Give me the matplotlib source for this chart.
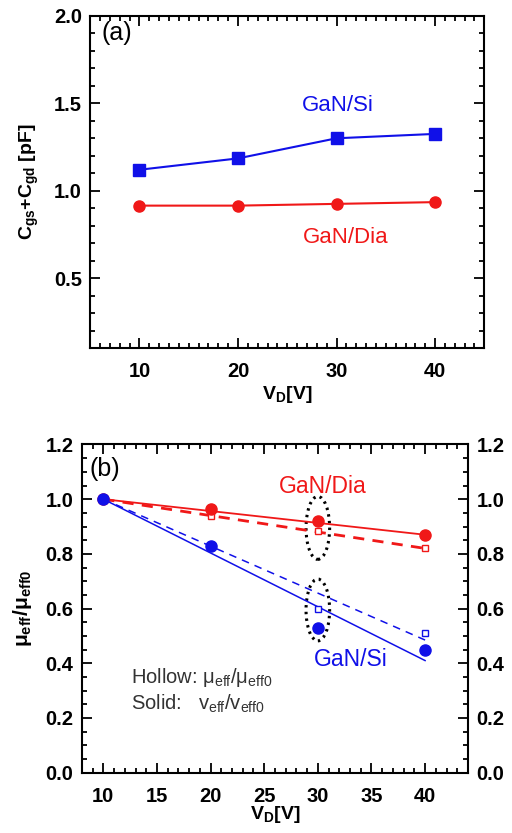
import matplotlib.pyplot as plt
from matplotlib.patches import Ellipse
from matplotlib.ticker import MultipleLocator

plt.rcParams['font.family'] = ['Liberation Sans', 'DejaVu Sans']
plt.rcParams['mathtext.fontset'] = 'custom'
plt.rcParams['mathtext.rm'] = 'Liberation Sans'
plt.rcParams['mathtext.it'] = 'Liberation Sans'
plt.rcParams['mathtext.bf'] = 'Liberation Sans:bold'

# panel (a) data
vd_a = [10, 20, 30, 40]
cap_si = [1.12, 1.185, 1.30, 1.325]
cap_dia = [0.915, 0.915, 0.925, 0.935]

# panel (b) data
vd_b = [10, 20, 30, 40]
dia_solid = [1.0, 0.965, 0.92, 0.87]
dia_hollow = [1.0, 0.94, 0.885, 0.82]
si_solid = [1.0, 0.83, 0.53, 0.45]
si_hollow = [1.0, 0.83, 0.60, 0.51]

# fitted lines (end points)
fit_x = [10, 40]
dia_solid_fit = [1.0, 0.87]
dia_hollow_fit = [1.0, 0.82]
si_solid_fit = [1.0, 0.41]
si_hollow_fit = [1.0, 0.485]

blue = '#1010e8'
red = '#f01818'

fig = plt.figure(figsize=(5.12, 8.33), dpi=100)

def style_ticks(ax):
    ax.tick_params(which='both', direction='in', top=True, right=True,
                   labelsize=14.5, width=1.3)
    ax.tick_params(which='major', length=7)
    ax.tick_params(which='minor', length=3.5)
    ax.tick_params(axis='x', pad=10)
    ax.tick_params(axis='y', pad=6)
    for lab in ax.get_xticklabels() + ax.get_yticklabels():
        lab.set_fontweight('bold')
    for s in ax.spines.values():
        s.set_linewidth(1.5)

# ---- panel (a)
ax1 = fig.add_axes([0.176, 0.582, 0.770, 0.399])
ax1.plot(vd_a, cap_si, color=blue, marker='s', markersize=8, lw=1.5)
ax1.plot(vd_a, cap_dia, color=red, marker='o', markersize=8, lw=1.5)
ax1.set_xlim(5, 45)
ax1.set_ylim(0.1, 2.0)
ax1.xaxis.set_minor_locator(MultipleLocator(1))
ax1.yaxis.set_minor_locator(MultipleLocator(0.1))
ax1.set_xticks([10, 20, 30, 40])
ax1.set_yticks([0.5, 1.0, 1.5, 2.0])
style_ticks(ax1)
ax1.set_xlabel(r'V$_\mathbf{D}$[V]', fontsize=14, fontweight='bold', labelpad=2)
ax1.set_ylabel(r'C$_\mathbf{gs}$+C$_\mathbf{gd}$ [pF]', fontsize=14,
               fontweight='bold', labelpad=9)
ax1.text(6.2, 1.9, '(a)', fontsize=18, va='center')
ax1.text(30.1, 1.49, 'GaN/Si', color=blue, fontsize=16, ha='center', va='center')
ax1.text(30.9, 0.73, 'GaN/Dia', color=red, fontsize=16, ha='center', va='center')

# ---- panel (b)
ax2 = fig.add_axes([0.160, 0.0724, 0.754, 0.394])
ax2.plot(fit_x, dia_solid_fit, color=red, lw=1.3)
ax2.plot(fit_x, dia_hollow_fit, color=red, lw=2, ls=(0, (4, 3)))
ax2.plot(fit_x, si_solid_fit, color=blue, lw=1.1)
ax2.plot(fit_x, si_hollow_fit, color=blue, lw=1.1, ls=(0, (5, 4)))
ax2.plot(vd_b, dia_hollow, ls='none', marker='s', markersize=5,
         markerfacecolor='white', markeredgecolor=red, markeredgewidth=1)
ax2.plot(vd_b, si_hollow, ls='none', marker='s', markersize=5,
         markerfacecolor='white', markeredgecolor=blue, markeredgewidth=1)
ax2.plot(vd_b, dia_solid, ls='none', marker='o', markersize=8, color=red)
ax2.plot(vd_b, si_solid, ls='none', marker='o', markersize=8, color=blue)
ax2.add_patch(Ellipse((30, 0.895), 2.2, 0.23, fill=False, ec='black',
                      lw=2.2, ls=(0, (0.8, 1.4))))
ax2.add_patch(Ellipse((30, 0.595), 2.2, 0.226, fill=False, ec='black',
                      lw=2.2, ls=(0, (0.8, 1.4))))
ax2.set_xlim(8, 44)
ax2.set_ylim(0.0, 1.2)
ax2.xaxis.set_minor_locator(MultipleLocator(1))
ax2.yaxis.set_major_locator(MultipleLocator(0.2))
ax2.yaxis.set_minor_locator(MultipleLocator(0.05))
ax2.set_xticks([10, 15, 20, 25, 30, 35, 40])
ax2.tick_params(labelright=True)
style_ticks(ax2)
for lab in ax2.yaxis.get_ticklabels(which='major'):
    lab.set_fontweight('bold')
ax2.set_xlabel(r'V$_\mathbf{D}$[V]', fontsize=14, fontweight='bold', labelpad=-1)
ax2.set_ylabel(r'$\mathbf{\mu}_\mathbf{eff}$/$\mathbf{\mu}_\mathbf{eff0}$',
               fontsize=15, fontweight='bold', labelpad=8)
ax2.text(8.7, 1.11, '(b)', fontsize=18, va='center')
ax2.text(30.5, 1.045, 'GaN/Dia', color=red, fontsize=16.5, ha='center', va='center')
ax2.text(33.1, 0.415, 'GaN/Si', color=blue, fontsize=16.5, ha='center', va='center')
ax2.text(12.6, 0.347, r'Hollow: $\mu_{eff}/\mu_{eff0}$', fontsize=14.5,
         va='center', color='#333333')
ax2.text(12.6, 0.25, r'Solid:   $v_{eff}/v_{eff0}$', fontsize=14.5,
         va='center', color='#333333')

fig.savefig('out.png', dpi=100)
